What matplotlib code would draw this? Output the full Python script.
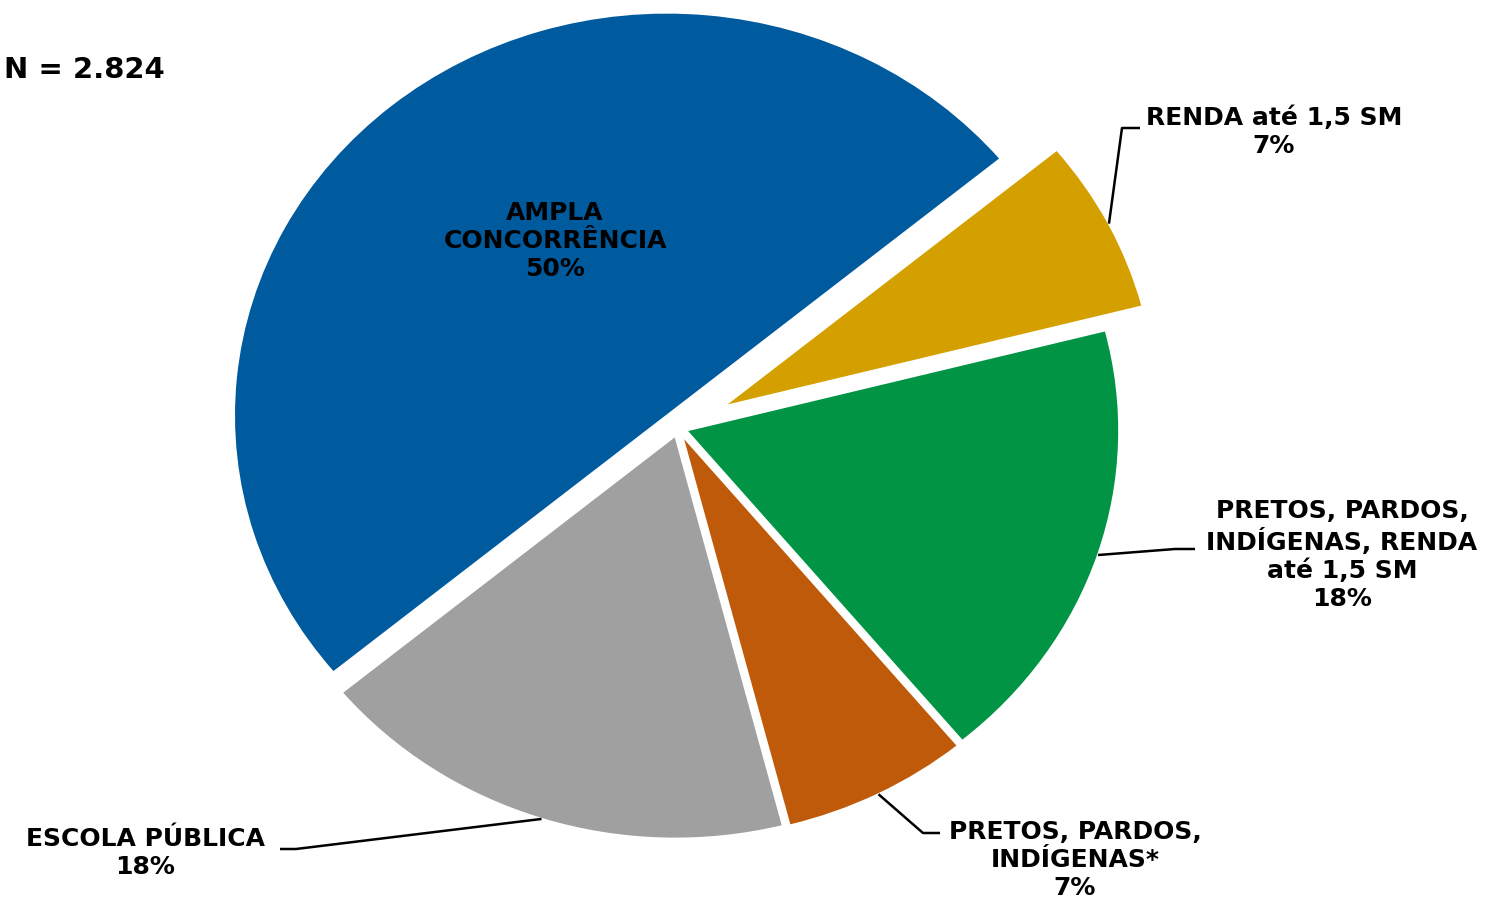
import matplotlib
matplotlib.use("Agg")
import matplotlib.pyplot as plt
import numpy as np

# dados
categorias = ['AMPLA\nCONCORRÊNCIA', 'ESCOLA PÚBLICA', 'PRETOS, PARDOS,\nINDÍGENAS*',
              'PRETOS, PARDOS,\nINDÍGENAS, RENDA\naté 1,5 SM', 'RENDA até 1,5 SM']
percentuais = [50, 18, 7, 18, 7]
total_n = '2.824'

cores = ['#005A9E', '#A0A0A0', '#BF5A0A', '#009444', '#D4A000']
explode = [0.04, 0.02, 0.02, 0.02, 0.117]

W, H = 1495, 901
cx, cy = 678, 428       # centro da pizza (px)
rx, ry = 433, 403       # a imagem original esta esticada na horizontal

def px(x, y):
    # pixel -> coordenadas do eixo
    return (x - cx) / rx, (cy - y) / ry

fig = plt.figure(figsize=(W / 100, H / 100), dpi=100)
ax = fig.add_axes([0, 0, 1, 1])

wedges, _ = ax.pie(percentuais, colors=cores, startangle=39.6, counterclock=True,
                   explode=explode, wedgeprops=dict(edgecolor='white', linewidth=1.5))
ax.set_aspect('auto')
ax.set_xlim(px(0, 0)[0], px(W, 0)[0])
ax.set_ylim(px(0, H)[1], px(0, 0)[1])
ax.axis('off')

fs = 18
txt = dict(fontsize=fs, fontweight='bold', ha='center', va='center',
           family='DejaVu Sans', linespacing=1.2)

# rotulo dentro da fatia azul
ax.text(*px(555, 241), categorias[0] + '\n' + f'{percentuais[0]}%', **txt)

# rotulos externos: posicao do texto, cotovelo e fim da linha guia (px)
externos = {
    1: ((145, 853), (296, 849), (280, 849)),
    2: ((1075, 860), (923, 833), (940, 833)),
    3: ((1342, 555), (1175, 549), (1195, 549)),
    4: ((1274, 132), (1122, 128), (1140, 128)),
}
for i, (pos, cot, fim) in externos.items():
    w = wedges[i]
    meio = np.deg2rad((w.theta1 + w.theta2) / 2)
    x0 = w.center[0] + w.r * np.cos(meio)
    y0 = w.center[1] + w.r * np.sin(meio)
    xs = [x0, px(*cot)[0], px(*fim)[0]]
    ys = [y0, px(*cot)[1], px(*fim)[1]]
    ax.plot(xs, ys, color='black', lw=1.8, solid_capstyle='butt')
    ax.text(*px(*pos), categorias[i] + '\n' + f'{percentuais[i]}%', **txt)

ax.text(*px(4, 70), f'N = {total_n}', fontsize=21, fontweight='bold',
        ha='left', va='center', family='DejaVu Sans')

fig.savefig('out.png', dpi=100)
